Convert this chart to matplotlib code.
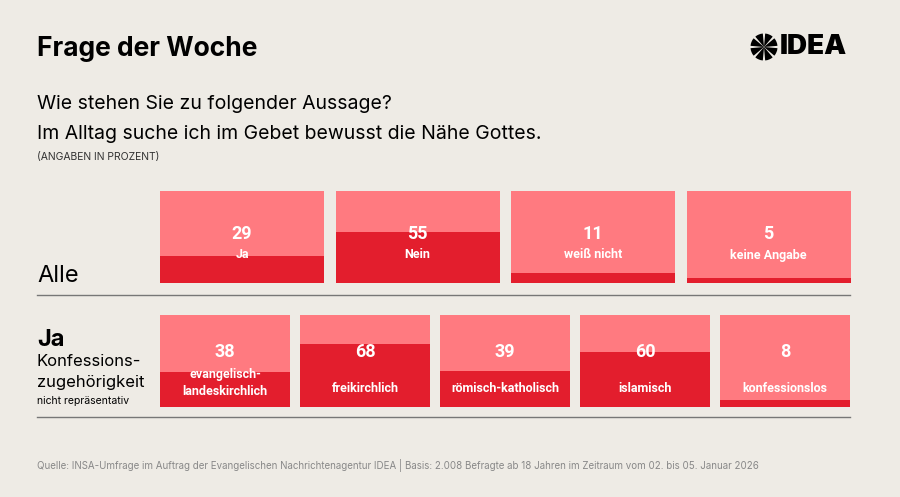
import matplotlib.pyplot as plt
import numpy as np
from matplotlib.patches import Rectangle, Wedge

all_labels = ["Ja", "Nein", "weiß nicht", "keine Angabe"]
all_values = [29, 55, 11, 5]
konf_labels = ["evangelisch-\nlandeskirchlich", "freikirchlich", "römisch-katholisch", "islamisch", "konfessionslos"]
konf_values = [38, 68, 39, 60, 8]

bg = "#EEEBE5"
light = "#FF7A80"
dark = "#E31E2D"

fig = plt.figure(figsize=(9, 4.97), dpi=100)
fig.patch.set_facecolor(bg)
ax = fig.add_axes([0, 0, 1, 1])
ax.set_xlim(0, 900)
ax.set_ylim(497, 0)
ax.axis("off")

font = "Inter"
cond = "Roboto"


def draw_row(labels, values, x0, w, gap, top, h, num_y, lab_y):
    for i, (lab, v) in enumerate(zip(labels, values)):
        x = x0 + i * (w + gap)
        ax.add_patch(Rectangle((x, top), w, h, color=light, lw=0))
        dh = h * v / 100
        ax.add_patch(Rectangle((x, top + h - dh), w, dh, color=dark, lw=0))
        ax.text(x + w / 2, num_y, str(v), ha="center", va="center", color="white",
                fontsize=13, fontweight="bold", family=cond)
        ly = lab_y - 6 if "\n" in lab else lab_y
        ax.text(x + w / 2, ly, lab, ha="center", va="center", color="white",
                fontsize=9, fontweight="bold", family=cond, linespacing=1.4)


draw_row(all_labels, all_values, 160, 164, 11.5, 191, 92, 234, 255)
draw_row(konf_labels, konf_values, 160, 130, 10, 315, 92, 352, 389)

ax.plot([37, 850], [295, 295], color="#777", lw=1)
ax.plot([37, 850], [417, 417], color="#777", lw=1)

ax.text(37, 49, "Frage der Woche", fontsize=19, fontweight="bold", family=font, va="center")
ax.text(37, 104, "Wie stehen Sie zu folgender Aussage?", fontsize=14, family=font, va="center")
ax.text(37, 134, "Im Alltag suche ich im Gebet bewusst die Nähe Gottes.", fontsize=14, family=font, va="center")
ax.text(37, 157, "(ANGABEN IN PROZENT)", fontsize=7.5, family=font, va="center", color="#333")
ax.text(37, 276, "Alle", fontsize=17, family=font, va="center")
ax.text(37, 340, "Ja", fontsize=17, fontweight="bold", family=font, va="center")
ax.text(37, 362, "Konfessions-", fontsize=12, family=font, va="center")
ax.text(37, 382, "zugehörigkeit", fontsize=12, family=font, va="center")
ax.text(37, 401, "nicht repräsentativ", fontsize=7.5, family=font, va="center")
ax.text(37, 466, "Quelle: INSA-Umfrage im Auftrag der Evangelischen Nachrichtenagentur IDEA | Basis: 2.008 Befragte ab 18 Jahren im Zeitraum vom 02. bis 05. Januar 2026",
        fontsize=7, family=font, va="center", color="#888")

# logo
cx, cy, r = 764, 47, 13.5
for k in range(8):
    a = k * 45 + 5
    ax.add_patch(Wedge((cx, cy), r, a, a + 35, color="black", lw=0))
ax.text(780, 47, "IDEA", fontsize=20, fontweight="black", family=font, va="center")

fig.savefig("out.png", dpi=100, facecolor=bg)
